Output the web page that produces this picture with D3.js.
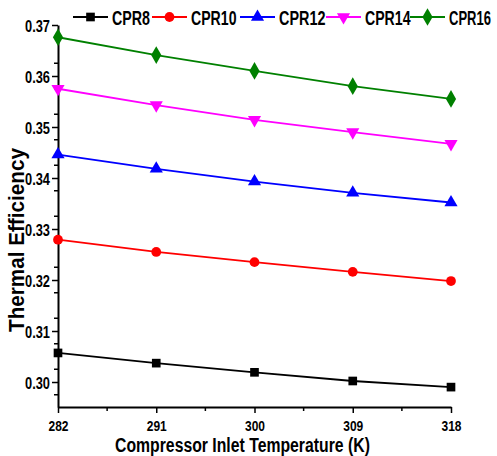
<!DOCTYPE html>
<html><head><meta charset="utf-8">
<script src="https://cdn.jsdelivr.net/npm/d3@7"></script>
<style>
body{margin:0;background:#fff;}
text{font-family:"Liberation Sans",Arial,sans-serif;font-weight:bold;}
</style></head>
<body><svg id="c" width="497" height="456"></svg>
<script>
const temps = [282, 291, 300, 309, 318];
const cpr8  = [0.3057, 0.3037, 0.3019, 0.3002, 0.2990];
const cpr10 = [0.3279, 0.3255, 0.3235, 0.3216, 0.3198];
const cpr12 = [0.3446, 0.3418, 0.3393, 0.3371, 0.3352];
const cpr14 = [0.3575, 0.3543, 0.3514, 0.3490, 0.3467];
const cpr16 = [0.3676, 0.3641, 0.3610, 0.3580, 0.3555];
const seriesNames = ["CPR8", "CPR10", "CPR12", "CPR14", "CPR16"];
const yTicks = [0.30, 0.31, 0.32, 0.33, 0.34, 0.35, 0.36, 0.37];

const series = [
  {name: seriesNames[0], values: cpr8,  color: "#000000", sym: d3.symbolSquare, rot: 0},
  {name: seriesNames[1], values: cpr10, color: "#ff0000", sym: d3.symbolCircle, rot: 0},
  {name: seriesNames[2], values: cpr12, color: "#0000ff", sym: d3.symbolTriangle, rot: 0},
  {name: seriesNames[3], values: cpr14, color: "#ff00ff", sym: d3.symbolTriangle, rot: 180},
  {name: seriesNames[4], values: cpr16, color: "#008000", sym: d3.symbolDiamond, rot: 0}
];

const svg = d3.select("#c");
const L = 58, R = 451, T = 25, B = 407;
const x = d3.scaleLinear().domain([282, 318]).range([L, R]);
const y = d3.scaleLinear().domain([0.2951, 0.37]).range([B, T]);

// horizontally condense a text to a target width, keeping glyph height
function condense(node, w, tx, ty, rot) {
  const n = node.getComputedTextLength();
  const sx = Math.min(1, w / n);
  node.setAttribute("x", 0);
  node.setAttribute("transform", `translate(${tx},${ty})${rot ? ` rotate(${rot})` : ""} scale(${sx},1)`);
}

// axes
const xAxis = d3.axisBottom(x).tickValues(temps).tickFormat(d3.format("d")).tickSize(6).tickSizeOuter(0);
const gx = svg.append("g").attr("transform", `translate(0,${B})`).call(xAxis);
gx.select(".domain").attr("stroke-width", 2);
gx.selectAll(".tick line").attr("stroke-width", 1.5);
gx.selectAll(".tick text").attr("font-size", 15.5).attr("y", 0).attr("dy", null)
  .each(function() { condense(this, 20, 0, 24); });
const xMinor = d3.range(286.5, 318, 9);
svg.append("g").attr("transform", `translate(0,${B})`).selectAll("line").data(xMinor).join("line")
  .attr("x1", d => x(d)).attr("x2", d => x(d)).attr("y1", 0).attr("y2", 4)
  .attr("stroke", "#000").attr("stroke-width", 1.5);

const yAxis = d3.axisLeft(y).tickValues(yTicks).tickFormat(d3.format(".2f")).tickSize(6).tickSizeOuter(0);
const gy = svg.append("g").attr("transform", `translate(${L},0)`).call(yAxis);
gy.select(".domain").attr("stroke-width", 2);
gy.selectAll(".tick line").attr("stroke-width", 1.5);
gy.selectAll(".tick text").attr("font-size", 16.5).attr("dy", null).attr("y", 0)
  .each(function() { condense(this, 25, -8, 6); });
const yMinor = d3.range(0.2975, 0.37, 0.005).filter(v => Math.abs(Math.round(v*100) - v*100) > 0.2);
svg.append("g").attr("transform", `translate(${L},0)`).selectAll("line").data(yMinor).join("line")
  .attr("x1", 0).attr("x2", -4).attr("y1", d => y(d)).attr("y2", d => y(d))
  .attr("stroke", "#000").attr("stroke-width", 1.5);

// titles
svg.append("text").attr("font-size", 19.5)
  .text("Compressor Inlet Temperature (K)")
  .each(function() { condense(this, 255, 115, 452); });
svg.append("text").attr("font-size", 22)
  .text("Thermal Efficiency")
  .each(function() { condense(this, 184, 24, 332, -90); });

// lines & markers
const line = d3.line().x((d, i) => x(temps[i])).y(d => y(d));
series.forEach(s => {
  svg.append("path").datum(s.values).attr("d", line).attr("fill", "none")
    .attr("stroke", s.color).attr("stroke-width", 1.8);
  svg.append("g").selectAll("path").data(s.values).join("path")
    .attr("d", d3.symbol().type(s.sym).size(s.sym === d3.symbolDiamond ? 90 : 75))
    .attr("transform", (d, i) => `translate(${x(temps[i])},${y(d)}) rotate(${s.rot})`)
    .attr("fill", s.color);
});

// legend
const legX = [73, 152, 240, 326, 410];
const legW = [38, 45.5, 46.5, 45.5, 42];
const leg = svg.append("g");
series.forEach((s, i) => {
  const g = leg.append("g").attr("transform", `translate(${legX[i]},17)`);
  g.append("line").attr("x1", 0).attr("x2", 35).attr("stroke", s.color).attr("stroke-width", 1.8);
  g.append("path").attr("d", d3.symbol().type(s.sym).size(s.sym === d3.symbolDiamond ? 90 : 75))
    .attr("transform", `translate(17.5,0) rotate(${s.rot})`).attr("fill", s.color);
  g.append("text").attr("font-size", 19.5).text(s.name)
    .each(function() { condense(this, legW[i], 39, 8); });
});
</script></body></html>
